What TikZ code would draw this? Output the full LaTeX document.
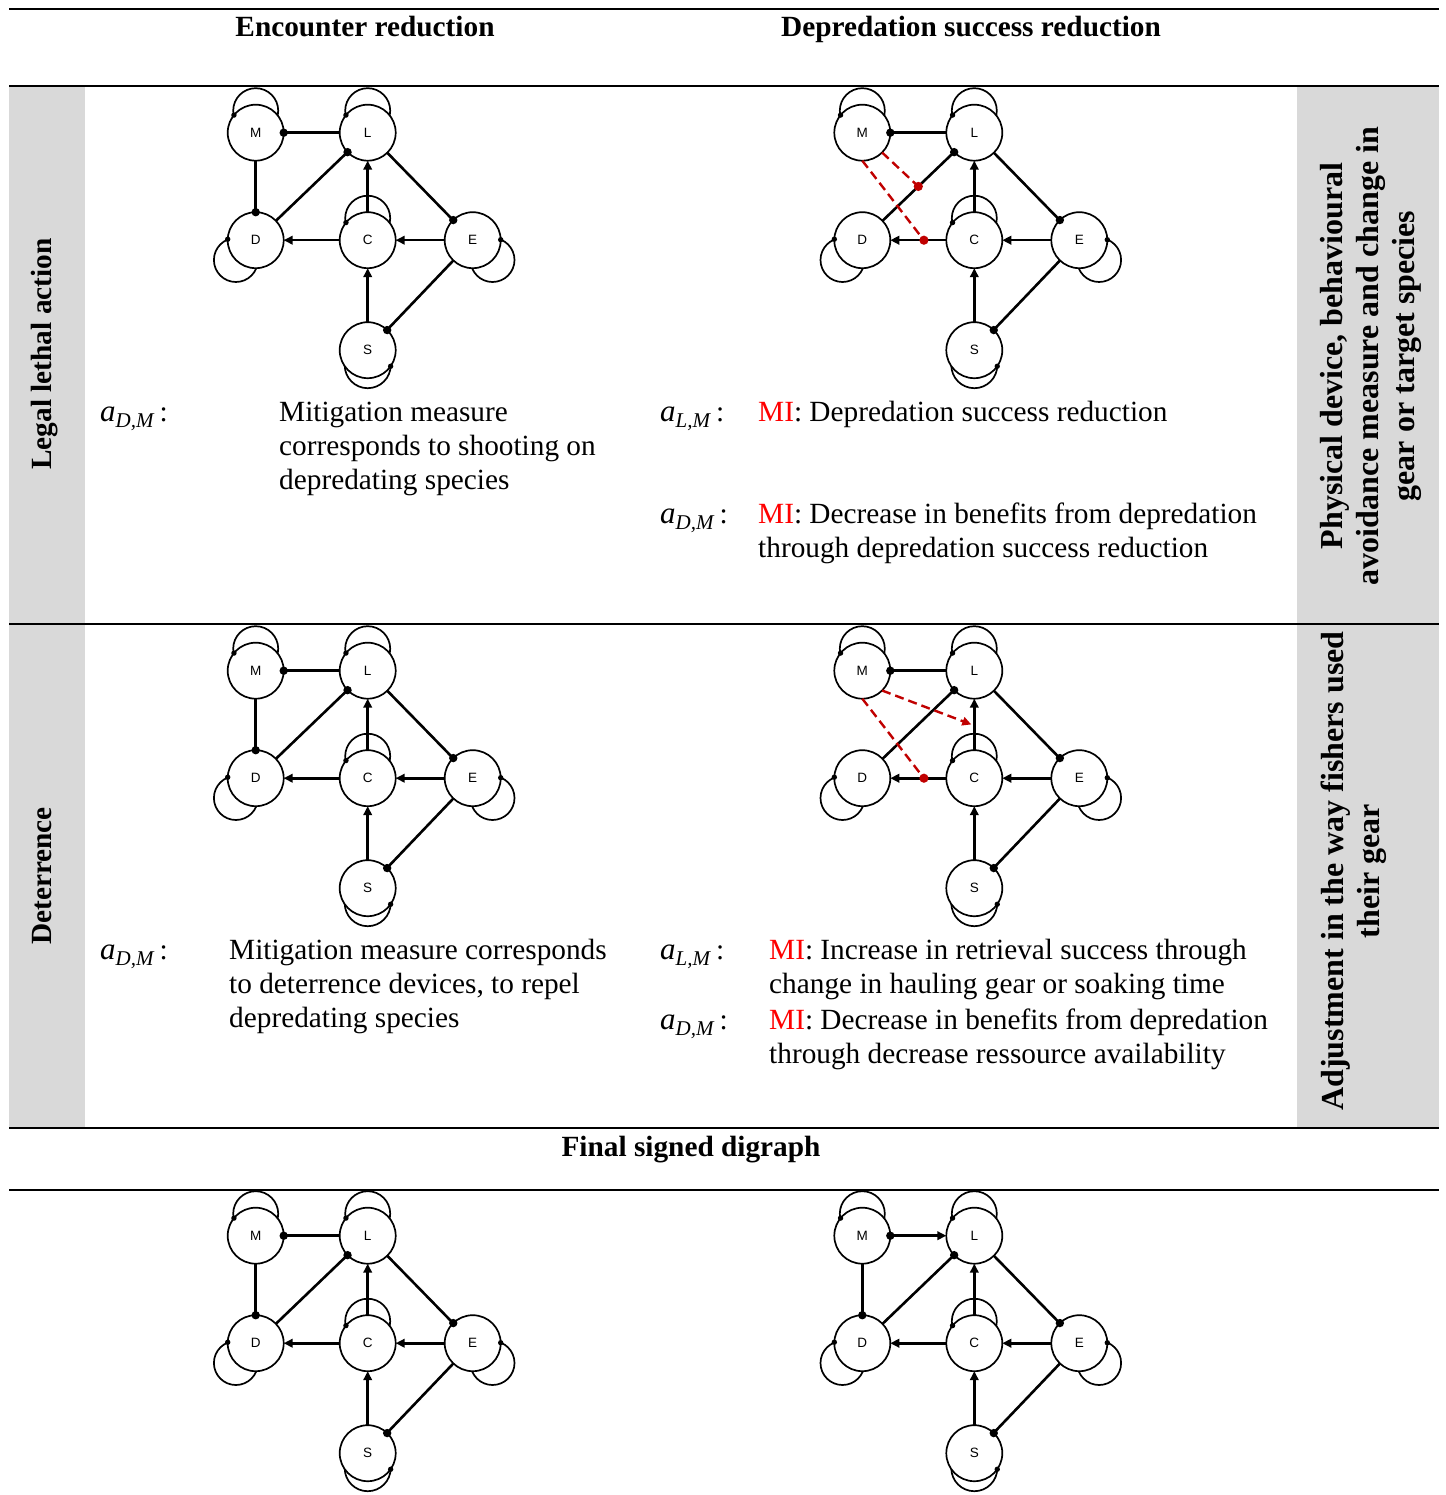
\documentclass[tikz,border=0pt]{standalone}
\usepackage{fontspec}
\setmainfont{Liberation Serif}
\newfontfamily\nodefont{Liberation Sans}
\usetikzlibrary{arrows.meta,calc}
\definecolor{cellgray}{HTML}{D9D9D9}
\definecolor{dashred}{HTML}{C00000}
\definecolor{mired}{HTML}{FF0000}
\newcommand{\bodysize}{\fontsize{29.3}{34}\selectfont}
\newcommand{\sidesize}{\fontsize{32}{37}\selectfont}
\newcommand{\coefl}[1]{{\fontsize{31}{34}\selectfont\textit{a}}\raisebox{-6pt}{\fontsize{21}{21}\selectfont\textit{#1}}\kern5pt:}
\newcommand{\redMI}{\textcolor{mired}{MI}}
\newcommand{\sdgraph}[2]{%
\begin{scope}[shift={#2}]
\draw[lp] (0,-22) circle[radius=22.5pt];
\draw[lp] (112,-22) circle[radius=22.5pt];
\draw[lp] (-19.8,127.3) circle[radius=22pt];
\draw[lp] (112,85.5) circle[radius=22.5pt];
\draw[lp] (236.8,127.3) circle[radius=22pt];
\draw[lp] (112,232.5) circle[radius=23pt];
\node[sv] (#1M) at (0,0) {M};
\node[sv] (#1L) at (112,0) {L};
\node[sv] (#1D) at (0,107.5) {D};
\node[sv] (#1C) at (112,107.5) {C};
\node[sv] (#1E) at (217,107.5) {E};
\node[sv] (#1S) at (112,217.5) {S};
\end{scope}
\fill (#1M.141.8) circle[radius=2.7pt];
\fill (#1L.141.8) circle[radius=2.7pt];
\fill (#1C.141.8) circle[radius=2.7pt];
\fill (#1D.178.8) circle[radius=2.7pt];
\fill (#1E.1.2) circle[radius=2.7pt];
\fill (#1S.325.2) circle[radius=2.7pt];
\draw[ed] (#1D) -- (#1L); \fill (#1L.224) circle[radius=4.2pt];
\draw[ar] (#1C) -- (#1L);
\draw[ar] (#1C) -- (#1D);
\draw[ar] (#1E) -- (#1C);
\draw[ar] (#1S) -- (#1C);
\draw[ed] (#1L) -- (#1E); \fill (#1E.134.3) circle[radius=4.2pt];
\draw[ed] (#1E) -- (#1S); \fill (#1S.46.3) circle[radius=4.2pt];
}
\begin{document}
\begin{tikzpicture}[x=1pt,y=-1pt,
  sv/.style={circle,draw,line width=1.7pt,fill=white,minimum size=56pt,inner sep=0pt,outer sep=0pt,font=\nodefont\fontsize{13.5}{14}\selectfont},
  lp/.style={line width=1.7pt},
  ed/.style={line width=2.6pt},
  ar/.style={line width=2.6pt,-{Triangle[length=9pt,width=8.5pt]}},
  rd/.style={line width=2.4pt,dashred,dash pattern=on 9pt off 5pt},
  body/.style={font=\bodysize,anchor=base west,inner sep=0pt},
  head/.style={font=\bodysize\bfseries,anchor=base,inner sep=0pt},
  side/.style={font=\sidesize\bfseries,anchor=base,inner sep=0pt,rotate=90},
  rule/.style={line width=2pt}]
\useasboundingbox (0,0) rectangle (1445,1495);
\clip (0,0) rectangle (1445,1495);
% table background and rules
\fill[cellgray] (9,86) rectangle (85,1127.7);
\fill[cellgray] (1297,86) rectangle (1438.5,1127.7);
\draw[rule] (9,9) -- (1438.5,9);
\draw[rule] (9,86) -- (1438.5,86);
\draw[rule] (9,623.5) -- (1438.5,623.5);
\draw[rule] (9,1127.7) -- (1438.5,1127.7);
\draw[rule] (9,1190) -- (1438.5,1190);
% headers
\node[head] (h1) at (365,37) {Encounter reduction};
\node[head] (h2) at (971,37) {Depredation success reduction};
\node[head] (h3) at (691,1156) {Final signed digraph};
\node[head,rotate=90] (r1) at (51,354) {Legal lethal action};
\node[head,rotate=90] (r2) at (51,876) {Deterrence};
\node[side] (s1) at (1342,356) {Physical device, behavioural};
\node[side] (s2) at (1378,356) {avoidance measure and change in};
\node[side] (s3) at (1414,356) {gear or target species};
\node[side] (s4) at (1343,871) {Adjustment in the way fishers used};
\node[side] (s5) at (1379,871) {their gear};
% graphs
\sdgraph{g1}{(255.7,132.7)}
\draw[ed] (g1L) -- (g1M); \fill (g1M.east) circle[radius=4.2pt];
\draw[ed] (g1M) -- (g1D); \fill (g1D.north) circle[radius=4.2pt];
\sdgraph{g2}{(862.3,132.7)}
\draw[ed] (g2L) -- (g2M); \fill (g2M.east) circle[radius=4.2pt];
\coordinate (g2x) at ($(g2D)!0.5!(g2L)$);
\coordinate (g2y) at ($(g2D)!0.55!(g2C)$);
\draw[rd] (g2M.-45) -- (g2x); \fill[dashred] (g2x) circle[radius=4.6pt];
\draw[rd] (g2M.south) -- (g2y); \fill[dashred] (g2y) circle[radius=4.6pt];
\sdgraph{g3}{(255.7,670.7)}
\draw[ed] (g3L) -- (g3M); \fill (g3M.east) circle[radius=4.2pt];
\draw[ed] (g3M) -- (g3D); \fill (g3D.north) circle[radius=4.2pt];
\sdgraph{g4}{(862.3,670.7)}
\draw[ed] (g4L) -- (g4M); \fill (g4M.east) circle[radius=4.2pt];
\coordinate (g4x) at ([xshift=-3pt]$(g4C.north)!0.5!(g4L.south)$);
\coordinate (g4y) at ($(g4D)!0.55!(g4C)$);
\draw[rd,-{Triangle[length=9pt,width=8.5pt]}] (g4M.-45) -- (g4x);
\draw[rd] (g4M.south) -- (g4y); \fill[dashred] (g4y) circle[radius=4.6pt];
\sdgraph{g5}{(255.7,1235.7)}
\draw[ed] (g5L) -- (g5M); \fill (g5M.east) circle[radius=4.2pt];
\draw[ed] (g5M) -- (g5D); \fill (g5D.north) circle[radius=4.2pt];
\sdgraph{g6}{(862.3,1235.7)}
\draw[ar] (g6M) -- (g6L); \fill (g6M.east) circle[radius=4.2pt];
\draw[ed] (g6M) -- (g6D); \fill (g6D.north) circle[radius=4.2pt];
% texts row 1
\node[body] (c1) at (100,421) {\coefl{D,M}};
\node[body] (t1) at (279,421) {Mitigation measure};
\node[body] (t2) at (279,455) {corresponds to shooting on};
\node[body] (t3) at (279,489) {depredating species};
\node[body] (c2) at (660,421) {\coefl{L,M}};
\node[body] (t4) at (758,421) {\redMI: Depredation success reduction};
\node[body] (c3) at (660,523) {\coefl{D,M}};
\node[body] (t5) at (758,523) {\redMI: Decrease in benefits from depredation};
\node[body] (t6) at (758,557) {through depredation success reduction};
% texts row 2
\node[body] (c4) at (100,959) {\coefl{D,M}};
\node[body] (t7) at (229,959) {Mitigation measure corresponds};
\node[body] (t8) at (229,993) {to deterrence devices, to repel};
\node[body] (t9) at (229,1027) {depredating species};
\node[body] (c5) at (660,959) {\coefl{L,M}};
\node[body] (t10) at (769,959) {\redMI: Increase in retrieval success through};
\node[body] (t11) at (769,993) {change in hauling gear or soaking time};
\node[body] (c6) at (660,1029) {\coefl{D,M}};
\node[body] (t12) at (769,1029) {\redMI: Decrease in benefits from depredation};
\node[body] (t13) at (769,1063) {through decrease ressource availability};
\end{tikzpicture}
\end{document}
